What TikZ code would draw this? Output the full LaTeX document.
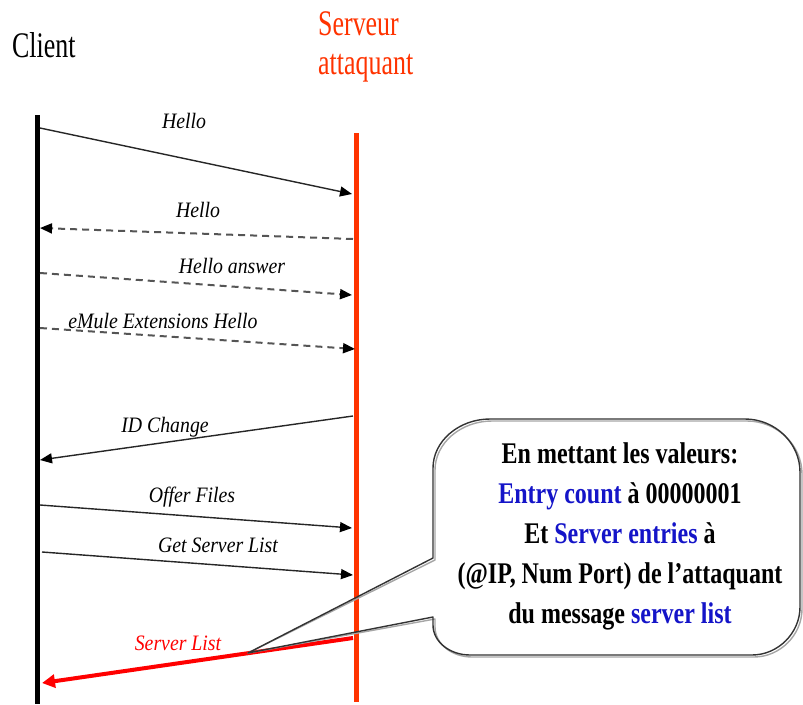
\documentclass[tikz,border=0pt]{standalone}
\usepackage{fontspec}
\setmainfont{Liberation Serif}
\newfontfamily\headfont[FakeStretch=0.72]{Liberation Serif}
\newfontfamily\notefont[FakeStretch=0.8]{Liberation Serif}
\newfontfamily\labelfont[FakeStretch=0.9]{Liberation Serif}
\usetikzlibrary{arrows.meta}
\definecolor{srvred}{RGB}{255,51,0}
\definecolor{msgred}{RGB}{255,0,0}
\definecolor{fieldblue}{RGB}{20,20,200}
\definecolor{msggray}{RGB}{85,85,85}
\begin{document}
\begin{tikzpicture}[x=1pt,y=-1pt,
  lifeline/.style={line width=5pt},
  tip/.style={-{Triangle[length=12pt,width=10pt,color=black]}},
  msg/.style={draw=black!85,line width=1.4pt,tip},
  reply/.style={draw=msggray,line width=2pt,dash pattern=on 7pt off 5pt,tip},
  attack/.style={draw=msgred,line width=4pt,-{Triangle[length=13pt,width=13pt]}},
  msglabel/.style={font=\labelfont\fontsize{22}{24}\selectfont\itshape,inner sep=0pt},
  actor/.style={font=\headfont\fontsize{36}{40}\selectfont,inner sep=0pt,anchor=base west},
  bubble/.style={draw=black!80,line width=1.4pt,line join=round},
  bubbleshadow/.style={draw=black!35,line width=1.4pt,line join=round}
]
\useasboundingbox (0,0) rectangle (803,704);

% actors
\node[actor] (client) at (12,57) {Client};
\node[actor,text=srvred] (srvA) at (318,35) {Serveur};
\node[actor,text=srvred] (srvB) at (318,74) {attaquant};

% lifelines
\coordinate (cTop) at (37,115);
\coordinate (cBot) at (37,704);
\coordinate (sTop) at (356,133);
\coordinate (sBot) at (356,702);
\draw[lifeline,black] (cTop) -- (cBot);
\draw[lifeline,srvred] (sTop) -- (sBot);

% message end points
\coordinate (c1) at (40,128);  \coordinate (s1) at (352,194);
\coordinate (s2) at (353,239); \coordinate (c2) at (40,228);
\coordinate (c3) at (40,273);  \coordinate (s3) at (352,295);
\coordinate (c4) at (40,328);  \coordinate (s4) at (355,349);
\coordinate (s5) at (353,416); \coordinate (c5) at (40,460);
\coordinate (c6) at (40,505);  \coordinate (s6) at (352,528);
\coordinate (c7) at (42,552);  \coordinate (s7) at (353,575);
\coordinate (s8) at (353,638); \coordinate (c8) at (42,683);

% messages
\draw[msg] (c1) -- (s1);
\draw[reply] (s2) -- (c2);
\draw[reply] (c3) -- (s3);
\draw[reply] (c4) -- (s4);
\draw[msg] (s5) -- (c5);
\draw[msg] (c6) -- (s6);
\draw[msg] (c7) -- (s7);
\draw[attack] (s8) -- (c8);

% message labels
\node[msglabel] (l1) at (184,121) {Hello};
\node[msglabel] (l2) at (198,210) {Hello};
\node[msglabel] (l3) at (232,266) {Hello answer};
\node[msglabel] (l4) at (163,321) {eMule Extensions Hello};
\node[msglabel] (l5) at (165,427) {ID Change};
\node[msglabel] (l6) at (192,497) {Offer Files};
\node[msglabel] (l7) at (218,545) {Get Server List};
\node[msglabel,text=msgred] (l8) at (178,643) {Server List};

% callout pointing at the Server List message
\coordinate (tipP) at (248,653);
\foreach \st/\dx in {bubbleshadow/2,bubble/0}{
  \draw[\st,shift={(\dx,\dx)}] (433,558) -- (tipP) -- (433,617) -- (433,625)
    .. controls (433,642) and (450,655) .. (470,655) -- (752,655)
    .. controls (778,655) and (800,633) .. (800,607) -- (800,472)
    .. controls (800,443) and (775,419) .. (745,419) -- (490,419)
    .. controls (459,419) and (433,441) .. (433,468) -- cycle;
}
\node[font=\notefont\bfseries\fontsize{30}{40}\selectfont,align=center,inner sep=0pt]
  (note) at (620,536) {En mettant les valeurs:\\
  \textcolor{fieldblue}{Entry count} à 00000001\\
  Et \textcolor{fieldblue}{Server entries} à\\
  (@IP, Num Port) de l’attaquant\\
  du message \textcolor{fieldblue}{server list}};
\end{tikzpicture}
\end{document}
